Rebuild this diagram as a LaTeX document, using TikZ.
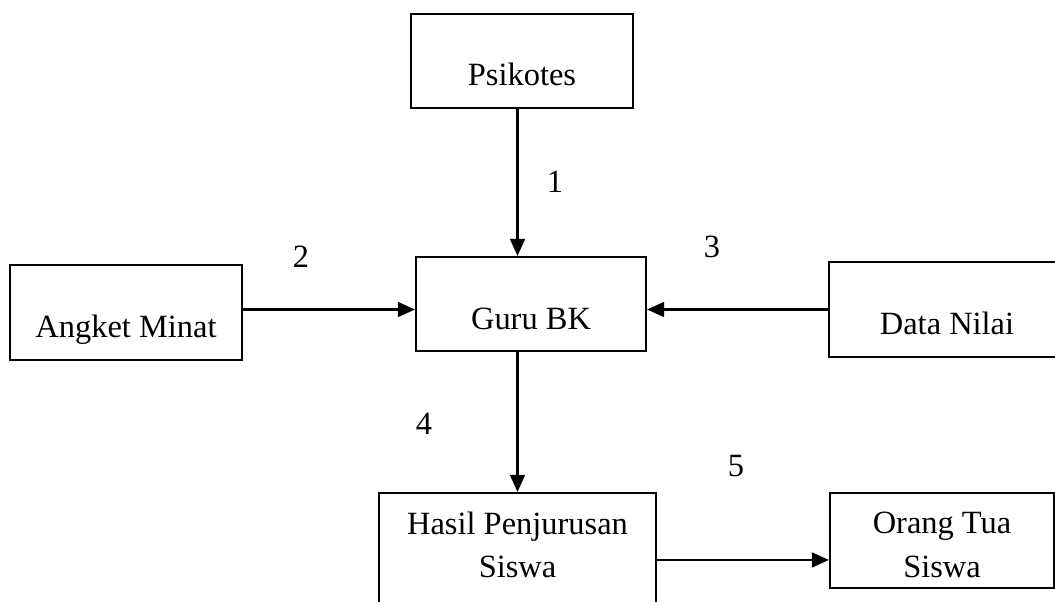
\documentclass[tikz,border=0pt]{standalone}
\usepackage{fontspec}
\setmainfont{Liberation Serif}
\usetikzlibrary{arrows.meta}

\begin{document}
\begin{tikzpicture}[x=0.013cm, y=-0.013cm, font=\fontsize{12}{16}\selectfont,
    box/.style={draw, line width=0.8pt, text height=0.65cm, text depth=0pt},
    twoline/.style={draw, line width=0.8pt},
    arr/.style={-{Triangle[length=6.3pt, width=5.5pt]}, line width=0.8pt}]
  \path[use as bounding box] (0,0) rectangle (1055,601);
  \clip (0,0) rectangle (1055,601);
  % boxes
  \node[box, minimum width=2.886cm, minimum height=1.222cm] (psikotes) at (522,61) {Psikotes};
  \node[box, minimum width=2.99cm, minimum height=1.222cm] (guru) at (531,304) {Guru BK};
  \node[box, minimum width=3.016cm, minimum height=1.235cm] (angket) at (126,312.5) {Angket Minat};
  \node[box, minimum width=3.068cm, minimum height=1.235cm] (data) at (947,309.5) {Data Nilai};
  \node[twoline, minimum width=3.601cm, minimum height=1.521cm] (hasil) at (517.5,551.5) {};
  \node[twoline, minimum width=2.912cm, minimum height=1.235cm] (orang) at (942,540.5) {};
  \node[align=center] (hasiltxt) at ([yshift=0.085cm]hasil.center) {Hasil Penjurusan\\Siswa};
  \node[align=center] (orangtxt) at ([yshift=-0.058cm]orang.center) {Orang Tua\\Siswa};
  % connectors
  \draw[arr] (psikotes.south -| hasil.north) -- (guru.north -| hasil.north);
  \draw[arr] (angket.east |- data.west) -- (guru.west |- data.west);
  \draw[arr] (data.west) -- (guru.east |- data.west);
  \draw[arr] (guru.south -| hasil.north) -- (hasil.north);
  \draw[arr] ([yshift=-0.11cm]hasil.east) coordinate (h1) -- (h1 -| orang.west);
  % numbers
  \node (n1) at (555,182) {1};
  \node (n2) at (301,257) {2};
  \node (n3) at (712,247) {3};
  \node (n4) at (424,424) {4};
  \node (n5) at (736,466) {5};
\end{tikzpicture}
\end{document}
